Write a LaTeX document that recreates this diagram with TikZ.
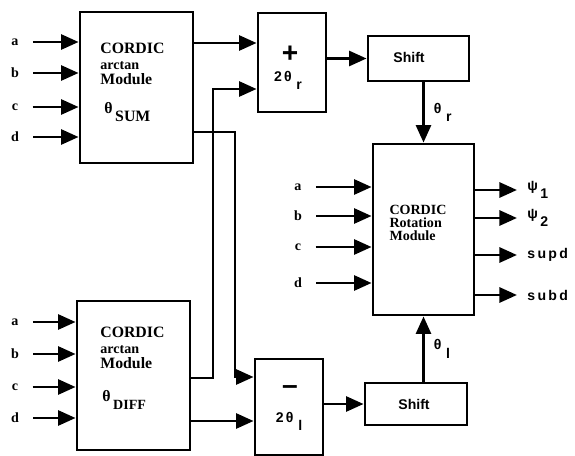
\documentclass[tikz,border=0pt]{standalone}
\usepackage{fontspec}
\setmainfont{Liberation Serif}
\newfontfamily\lblfont{Liberation Sans}
\usetikzlibrary{arrows.meta}
\newcommand{\lowsub}[2]{#1\raisebox{-1.1ex}{\,#2}}

\begin{document}
\begin{tikzpicture}[x=0.02cm, y=-0.02cm,
    blk/.style={draw, line width=1.6pt, inner sep=0pt},
    arr/.style={line width=1.7pt, -{Triangle[length=10pt, width=8.5pt]}},
    inp/.style={inner sep=0pt, font=\bfseries\fontsize{8}{8}\selectfont},
    txt/.style={inner sep=0pt, align=left, font=\bfseries\fontsize{9}{8.8}\selectfont},
    sml/.style={inner sep=0pt, font=\lblfont\bfseries\fontsize{8}{9}\selectfont}]
  \useasboundingbox (0,0) rectangle (575,456);

  % Blocchi
  \node[blk, minimum width=2.26cm, minimum height=3.02cm] (sum) at (136.5,87.5) {};
  \node[blk, minimum width=2.26cm, minimum height=2.98cm] (diff) at (133.5,375.5) {};
  \node[blk, minimum width=1.36cm, minimum height=1.98cm] (plus) at (292,62.5) {};
  \node[blk, minimum width=1.36cm, minimum height=1.92cm] (minus) at (289,407) {};
  \node[blk, minimum width=2.02cm, minimum height=0.90cm] (shr) at (418.5,58.5) {};
  \node[blk, minimum width=2.04cm, minimum height=0.84cm] (shl) at (416,404) {};
  \node[blk, minimum width=2.02cm, minimum height=3.42cm] (rot) at (423.5,229.5) {};

  % Testi nei blocchi
  \node[txt, anchor=west] (tsum) at (100,64) {CORDIC\\{\fontsize{8}{8}\selectfont arctan}\\Module};
  \node[txt, anchor=west] (qsum) at (104,112) {\lowsub{θ}{SUM}};
  \node[txt, anchor=west] (tdiff) at (100,348) {CORDIC\\{\fontsize{8}{8}\selectfont arctan}\\Module};
  \node[txt, anchor=west] (qdiff) at (102,400) {\lowsub{θ}{\fontsize{8}{8}\selectfont DIFF}};
  \node[txt, font=\bfseries\fontsize{8}{7.6}\selectfont] (trot) at (418,223) {CORDIC\\Rotation\\Module};
  \node[sml, font=\lblfont\bfseries\fontsize{16}{16}\selectfont] (pl) at (290,54) {+};
  \node[sml] (pq) at (288,80) {\lowsub{2\,θ}{\,r}};
  \node[sml, font=\lblfont\bfseries\fontsize{16}{16}\selectfont] (mi) at (290,390) {–};
  \node[sml] (mq) at (289,421) {\lowsub{2\,θ}{\,l}};
  \node[sml] (tshr) at (409,57) {Shift};
  \node[sml] (tshl) at (414,404) {Shift};

  % Ingressi
  \foreach \l/\y in {a/42, b/73, c/107, d/137} {
    \node[inp] (s\l) at (15,\y) {\l};
    \draw[arr, shorten <=8pt] (s\l) -- (sum.west |- s\l);
  }
  \foreach \l/\y in {a/322, b/354, c/387, d/418} {
    \node[inp] (d\l) at (15,\y) {\l};
    \draw[arr, shorten <=8pt] (d\l) -- (diff.west |- d\l);
  }
  \foreach \l/\y in {a/187, b/216, c/247, d/283} {
    \node[inp] (r\l) at (298,\y) {\l};
    \draw[arr, shorten <=8pt] (r\l) -- (rot.west |- r\l);
  }

  % Collegamenti
  \draw[arr] (sum.east |- 0,43) -- (plus.west |- 0,43);
  \draw[arr] (sum.east |- 0,132) -| (235,377) -- (minus.west |- 0,377);
  \draw[arr] (diff.east |- 0,378) -| (213,89) -- (plus.west |- 0,89);
  \draw[arr] (diff.east |- 0,421) -- (minus.west |- 0,421);
  \draw[arr] (plus.east |- shr) -- (shr);
  \draw[arr] (minus.east |- shl) -- (shl);
  \draw[arr] (shr.south -| rot) -- (rot.north)
        node[midway, right=5pt, sml] {\lowsub{θ}{\,r}};
  \draw[arr] (shl.north -| rot) -- (rot.south)
        node[midway, right=5pt, sml] {\lowsub{θ}{\,l}};

  % Uscite
  \foreach \n/\y/\t in {1/190/{\lowsub{ψ}{1}}, 2/218/{\lowsub{ψ}{2}}, 3/255/{s\,u\,p\,d}, 4/295/{s\,u\,b\,d}} {
    \coordinate (o\n) at (517,\y);
    \draw[arr] (rot.east |- o\n) -- (o\n);
    \node[sml, anchor=west] (lo\n) at (527,\y) {\t};
  }
\end{tikzpicture}
\end{document}
